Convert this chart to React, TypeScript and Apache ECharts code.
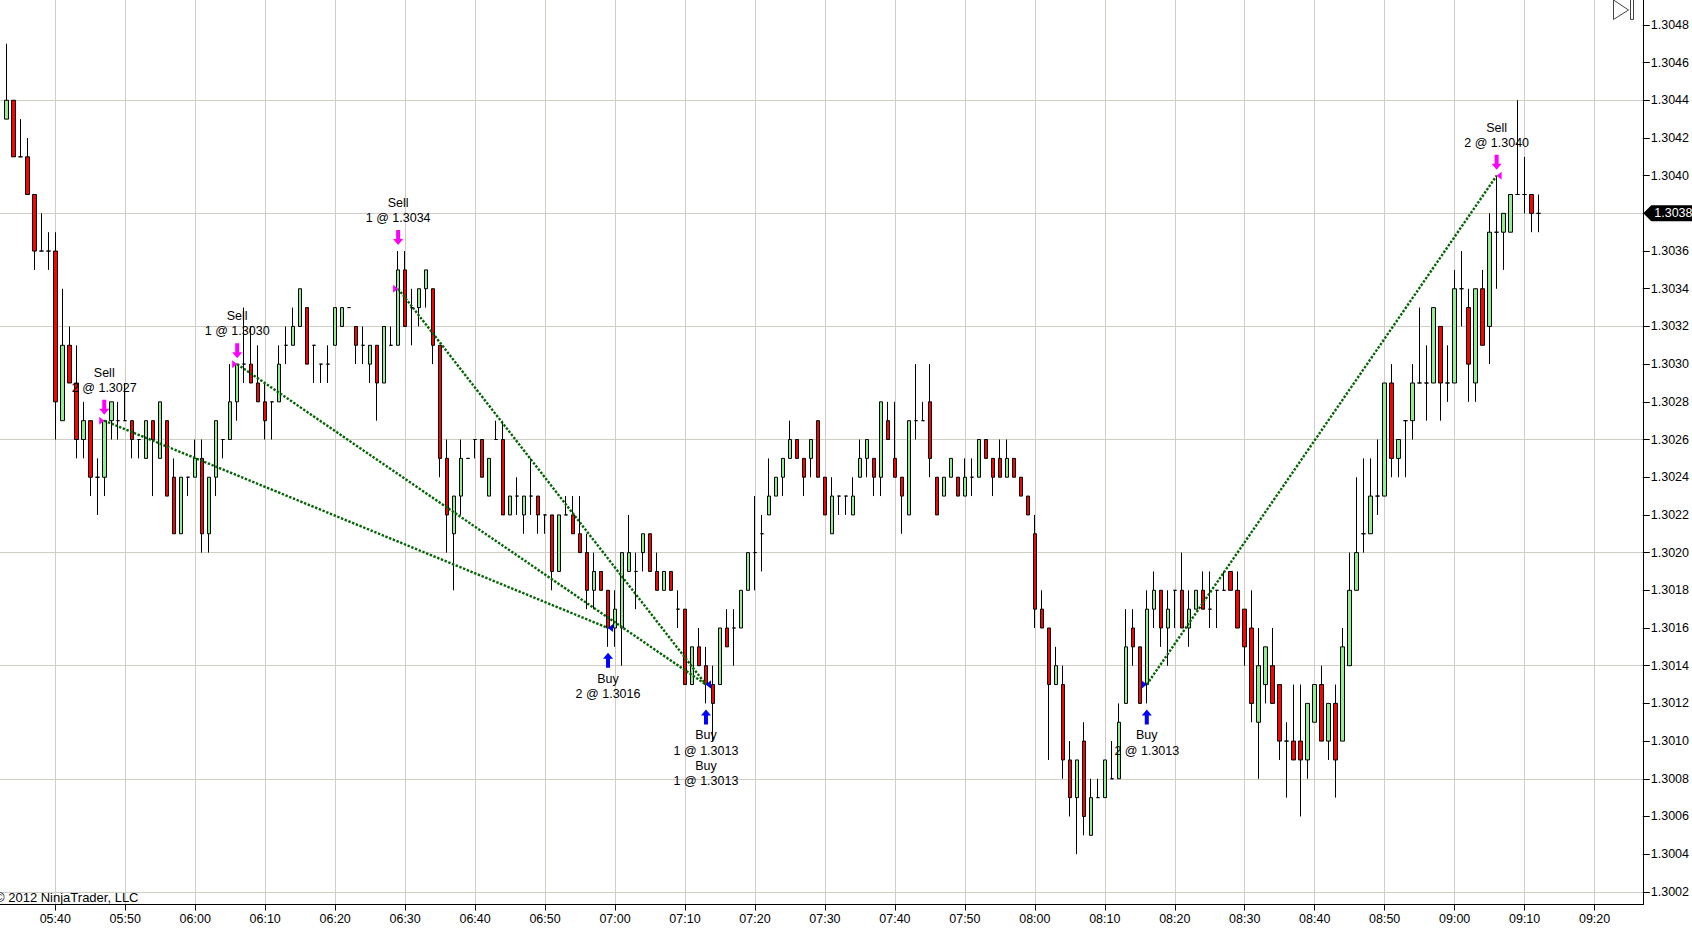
import React, { useEffect, useRef } from "react";
import * as echarts from "echarts";

// Prices are pips above 1.3000; one bar per minute, first bar 05:33
const firstBarMinute = 333;
const opens = [
  43,44,41,41,39,36,36,36,27,31, 29,26,27,24,24,27,27,27,27,26,
  25,27,25,27,24,21,24,24,25,21, 24,26,26,28,30,30,29,28,28,28,
  31,31,32,33,31,30,30,31,32,33, 32,31,30,31,29,31,31,35,33,33,
  34,34,31,25,21,23,25,26,26,23, 26,26,22,23,22,23,23,22,22,19,
  22,22,21,20,18,19,18,16,16,19, 19,20,21,19,18,19,17,17,13,15,
  14,13,13,16,16,16,18,20,21,22, 23,24,25,26,25,25,27,24,21,23,
  23,22,24,25,25,24,27,25,24,22, 27,27,28,24,23,24,24,23,24,24,
  26,25,25,24,25,24,23,21,17,16, 13,13,9,7,10,5,7,7,8,8,
  12,16,15,13,17,18,16,18,18,16, 17,18,17,18,18,19,18,17,16,11,
  13,14,13,10,10,10,9,11,13,10, 12,10,14,18,21,21,23,23,29,25,
  27,27,29,29,29,32,29,29,34,33, 29,34,32,37,37,37,39,39,39,38,
];
const highs = [
  47,44,43,42,39,38,37,37,34,32, 31,28,27,25,27,28,28,29,27,26,
  27,27,28,27,25,24,24,26,26,24, 27,26,30,30,33,32,31,29,28,31,
  32,33,34,33,31,30,31,33,33,33, 32,32,31,31,32,32,36,36,34,34,
  35,34,31,26,23,26,25,26,26,25, 27,27,23,24,23,25,23,22,22,22,
  23,23,23,21,20,19,18,18,20,22, 20,21,21,20,19,19,18,17,15,16,
  15,14,16,17,17,18,20,23,22,25, 24,25,27,26,25,26,27,24,24,23,
  23,24,26,26,25,28,28,28,24,27, 30,28,30,24,24,25,24,25,25,26,
  26,25,26,26,25,24,23,22,18,16, 15,14,10,9,11,8,8,9,10,12,
  17,17,15,18,19,18,18,18,20,18, 18,19,19,18,19,19,19,17,18,16,
  15,16,13,11,13,13,12,13,14,12, 13,16,20,24,25,25,26,29,30,26,
  27,30,33,31,33,32,31,35,36,34, 34,35,38,40,38,39,44,41,39,39,
];
const lows = [
  43,41,41,39,35,36,35,26,27,29, 25,25,23,22,23,26,26,27,25,25,
  25,23,25,23,21,21,23,24,20,20, 23,25,26,27,29,29,28,26,26,28,
  30,31,32,30,29,29,29,31,32,33, 30,30,29,27,29,31,31,32,31,32,
  33,30,24,20,18,22,25,25,24,23, 26,22,22,22,21,22,21,21,18,19,
  22,21,20,17,17,18,15,15,14,19, 17,19,19,18,18,18,16,13,13,14,
  12,10,13,15,14,16,18,18,19,22, 23,23,25,25,23,24,24,22,21,22,
  22,22,24,24,23,23,26,24,21,22, 26,27,24,22,23,24,23,23,23,24,
  25,23,24,24,24,23,22,16,16,9, 13,8,6,4,5,5,7,7,8,8,
  12,14,12,12,16,15,14,16,16,15, 17,17,16,16,18,18,16,14,11,8,
  12,12,9,7,9,6,8,11,10,9, 7,10,14,18,20,21,22,23,24,24,
  24,26,29,27,29,27,28,29,32,28, 28,31,30,34,35,37,39,38,37,37,
];
const closes = [
  44,41,41,39,36,36,36,28,31,29, 26,27,24,24,27,28,27,27,26,26,
  27,26,28,23,21,24,24,25,21,24, 27,26,28,30,30,29,28,27,28,30,
  31,32,34,30,31,30,30,33,33,33, 31,31,31,29,32,31,35,32,33,34,
  35,31,25,22,23,25,25,26,24,25, 26,22,23,23,23,23,22,22,19,22,
  22,21,20,18,19,18,16,17,20,20, 19,21,19,18,19,18,17,13,15,14,
  13,12,16,15,16,18,20,20,21,23, 24,25,26,25,24,26,24,22,23,23,
  23,23,25,26,24,28,26,24,23,27, 27,27,25,22,24,25,23,24,24,26,
  25,24,24,25,24,23,22,17,16,13, 14,9,7,9,6,7,7,9,8,11,
  15,15,12,17,18,16,17,18,16,17, 18,17,17,18,18,18,16,15,12,14,
  15,12,10,10,9,9,12,13,10,12, 9,15,18,20,21,23,23,29,25,26,
  27,29,29,29,33,29,29,34,34,30, 34,31,37,37,38,39,39,39,38,38,
];

const timeTicks = [
  "05:40","05:50","06:00","06:10","06:20","06:30","06:40","06:50","07:00","07:10","07:20","07:30",
  "07:40","07:50","08:00","08:10","08:20","08:30","08:40","08:50","09:00","09:10","09:20",
];
const priceTickLabels = [
  "1.3002","1.3004","1.3006","1.3008","1.3010","1.3012","1.3014","1.3016","1.3018","1.3020","1.3022","1.3024",
  "1.3026","1.3028","1.3030","1.3032","1.3034","1.3036","1.3040","1.3042","1.3044","1.3046","1.3048",
];
const priceTickMarks = [...priceTickLabels, "1.3038"];
const gridPrices = ["1.3002","1.3008","1.3014","1.3020","1.3026","1.3032","1.3038","1.3044"];
const lastPrice = "1.3038";

// Round trips: bar index and pip price of both ends
const tripFromBars = [14, 33, 56, 163];
const tripFromPips = [27, 30, 34, 13];
const tripToBars = [86, 100, 100, 213];
const tripToPips = [16, 13, 13, 40];

// Order annotations
const orderBars = [14, 33, 56, 86, 100, 163, 213];
const orderSides = ["Sell", "Sell", "Sell", "Buy", "Buy", "Buy", "Sell"];
const orderTexts = [
  ["Sell", "2 @ 1.3027"],
  ["Sell", "1 @ 1.3030"],
  ["Sell", "1 @ 1.3034"],
  ["Buy", "2 @ 1.3016"],
  ["Buy", "1 @ 1.3013", "Buy", "1 @ 1.3013"],
  ["Buy", "2 @ 1.3013"],
  ["Sell", "2 @ 1.3040"],
];

const FONT = '12.5px "Liberation Sans", Arial, sans-serif';
const GRID_COLOR = "#CFCDC4";
const px = (pips: number) => Math.round((1.3 + pips / 10000) * 10000) / 10000;
const toMinute = (t: string) => Number(t.slice(0, 2)) * 60 + Number(t.slice(3));
const barMinute = (i: number) => firstBarMinute + i;
const fmtMinute = (v: number) =>
  `${String(Math.floor(v / 60)).padStart(2, "0")}:${String(Math.round(v) % 60).padStart(2, "0")}`;

const xMin = 332.1;
const xMax = 566.886;
const yMin = 1.300133;
const yMax = 1.304932;

function renderOrder(params: any, api: any) {
  const k = params.dataIndex;
  const side = orderSides[k];
  const bar = orderBars[k];
  const anchor = api.coord([barMinute(bar), px(side === "Sell" ? highs[bar] : lows[bar])]);
  const cx = anchor[0];
  const cy = anchor[1];
  const children: any[] = [];
  const color = side === "Sell" ? "#FF00FF" : "#0000FF";
  const s = side === "Sell" ? -1 : 1;
  const tip = cy + s * 6;
  const tail = cy + s * 21;
  const neck = cy + s * 12;
  children.push({
    type: "polygon",
    shape: {
      points: [
        [cx, tip], [cx + 5, neck], [cx + 2, neck], [cx + 2, tail],
        [cx - 2, tail], [cx - 2, neck], [cx - 5, neck],
      ],
    },
    style: { fill: color },
  });
  const lines = orderTexts[k];
  lines.forEach((line, n) => {
    const offset = side === "Sell" ? -48 + n * 15 : 32 + n * 15.2;
    children.push({
      type: "text",
      x: cx,
      y: cy + offset,
      style: { text: line, font: FONT, fill: "#000", align: "center", verticalAlign: "middle" },
    });
  });
  return { type: "group", children };
}

function renderExec(params: any, api: any) {
  const k = params.dataIndex;
  const p = api.coord([api.value(0), api.value(1)]);
  const dir = api.value(2);
  const color = api.value(3) === 1 ? "#FF00FF" : "#0000FF";
  const pts =
    dir > 0
      ? [[p[0] - 5, p[1] - 4], [p[0], p[1]], [p[0] - 5, p[1] + 4]]
      : [[p[0] + 5, p[1] - 4], [p[0], p[1]], [p[0] + 5, p[1] + 4]];
  return { type: "polygon", key: k, shape: { points: pts }, style: { fill: color } };
}

function renderLastPrice(_: any, api: any) {
  const p = api.coord([xMax, Number(lastPrice)]);
  const x = p[0] + 0.5;
  const y = p[1];
  return {
    type: "group",
    children: [
      {
        type: "polygon",
        shape: {
          points: [[x, y], [x + 8, y - 8], [x + 60, y - 8], [x + 60, y + 8], [x + 8, y + 8]],
        },
        style: { fill: "#000" },
      },
      {
        type: "text",
        x: x + 11,
        y,
        style: { text: lastPrice, font: FONT, fill: "#fff", align: "left", verticalAlign: "middle" },
      },
    ],
  };
}

export default function App() {
  const ref = useRef<HTMLDivElement>(null);
  useEffect(() => {
    const chart = echarts.init(ref.current!, undefined, { renderer: "svg" });
    const candles = opens.map((o, i) => [barMinute(i), px(o), px(closes[i]), px(lows[i]), px(highs[i])]);
    const tripSeries = tripFromBars.map((b, i) => ({
      type: "line",
      name: `trip${i}`,
      data: [
        [barMinute(b), px(tripFromPips[i])],
        [barMinute(tripToBars[i]), px(tripToPips[i])],
      ],
      symbol: "none",
      silent: true,
      z: 4,
      lineStyle: { color: "#006400", width: 2.4, type: [2.4, 1.6] },
    }));
    const execData = [
      ...tripFromBars.map((b, i) => [barMinute(b), px(tripFromPips[i]), 1, i === 3 ? 0 : 1]),
      ...tripToBars.map((b, i) => [barMinute(b), px(tripToPips[i]), -1, i === 3 ? 1 : 0]),
    ];
    chart.setOption({
      animation: false,
      backgroundColor: "#fff",
      textStyle: { fontFamily: '"Liberation Sans", Arial, sans-serif' },
      grid: { left: 0, width: 1643.5, top: 0, height: 904.5, containLabel: false },
      xAxis: {
        type: "value",
        min: xMin,
        max: xMax,
        axisLine: { show: true, lineStyle: { color: "#000", width: 1 } },
        axisTick: { show: true, length: 6, lineStyle: { color: "#000" }, customValues: timeTicks.map(toMinute) },
        axisLabel: {
          customValues: timeTicks.map(toMinute),
          formatter: (v: number) => fmtMinute(v),
          color: "#000",
          fontSize: 12.5,
          margin: 8,
          hideOverlap: false,
        },
        splitLine: { show: true, lineStyle: { color: GRID_COLOR, width: 1 } },
      },
      yAxis: [
        {
          type: "value",
          position: "right",
          min: yMin,
          max: yMax,
          axisLine: { show: true, onZero: false, lineStyle: { color: "#000", width: 1 } },
          axisTick: { show: true, length: 7, lineStyle: { color: "#000" }, customValues: priceTickMarks.map(Number) },
          axisLabel: {
            customValues: priceTickLabels.map(Number),
            formatter: (v: number) => v.toFixed(4),
            color: "#000",
            fontSize: 12.5,
            margin: 8,
          },
          splitLine: { show: false },
        },
        {
          type: "value",
          position: "right",
          min: yMin,
          max: yMax,
          axisLine: { show: false },
          axisLabel: { show: false },
          axisTick: { show: false, customValues: gridPrices.map(Number) },
          splitLine: { show: true, lineStyle: { color: GRID_COLOR, width: 1 } },
        },
      ],
      series: [
        {
          type: "candlestick",
          name: "Price",
          data: candles,
          barWidth: 4,
          z: 3,
          itemStyle: {
            color: "#90EE90",
            color0: "#FF0000",
            borderColor: "#000",
            borderColor0: "#000",
            borderColorDoji: "#000",
            borderWidth: 1,
          },
        },
        ...tripSeries,
        {
          type: "custom",
          name: "Orders",
          data: orderBars.map((b) => [barMinute(b), 0]),
          renderItem: renderOrder,
          clip: false,
          silent: true,
          z: 5,
        },
        {
          type: "custom",
          name: "Executions",
          data: execData,
          renderItem: renderExec,
          encode: { x: 0, y: 1 },
          clip: false,
          silent: true,
          z: 5,
        },
        {
          type: "custom",
          name: "Last",
          data: [[xMax, Number(lastPrice)]],
          renderItem: renderLastPrice,
          encode: { x: 0, y: 1 },
          clip: false,
          silent: true,
          z: 6,
        },
      ],
      graphic: [
        {
          type: "polygon",
          z: 10,
          shape: { points: [[1613.5, 0], [1628.5, 10], [1613.5, 19.5]] },
          style: { fill: "#fff", stroke: "#444", lineWidth: 1 },
        },
        {
          type: "rect",
          z: 10,
          shape: { x: 1630.5, y: -1, width: 3, height: 20.5 },
          style: { fill: "#fff", stroke: "#444", lineWidth: 1 },
        },
        {
          type: "text",
          z: 10,
          x: -5,
          y: 897,
          style: { text: "© 2012 NinjaTrader, LLC", font: '13px "Liberation Sans", Arial, sans-serif', fill: "#000", verticalAlign: "middle" },
        },
      ],
    });
    return () => chart.dispose();
  }, []);
  return <div ref={ref} style={{ position: "absolute", left: 0, top: 0, width: 1692, height: 930 }} />;
}
